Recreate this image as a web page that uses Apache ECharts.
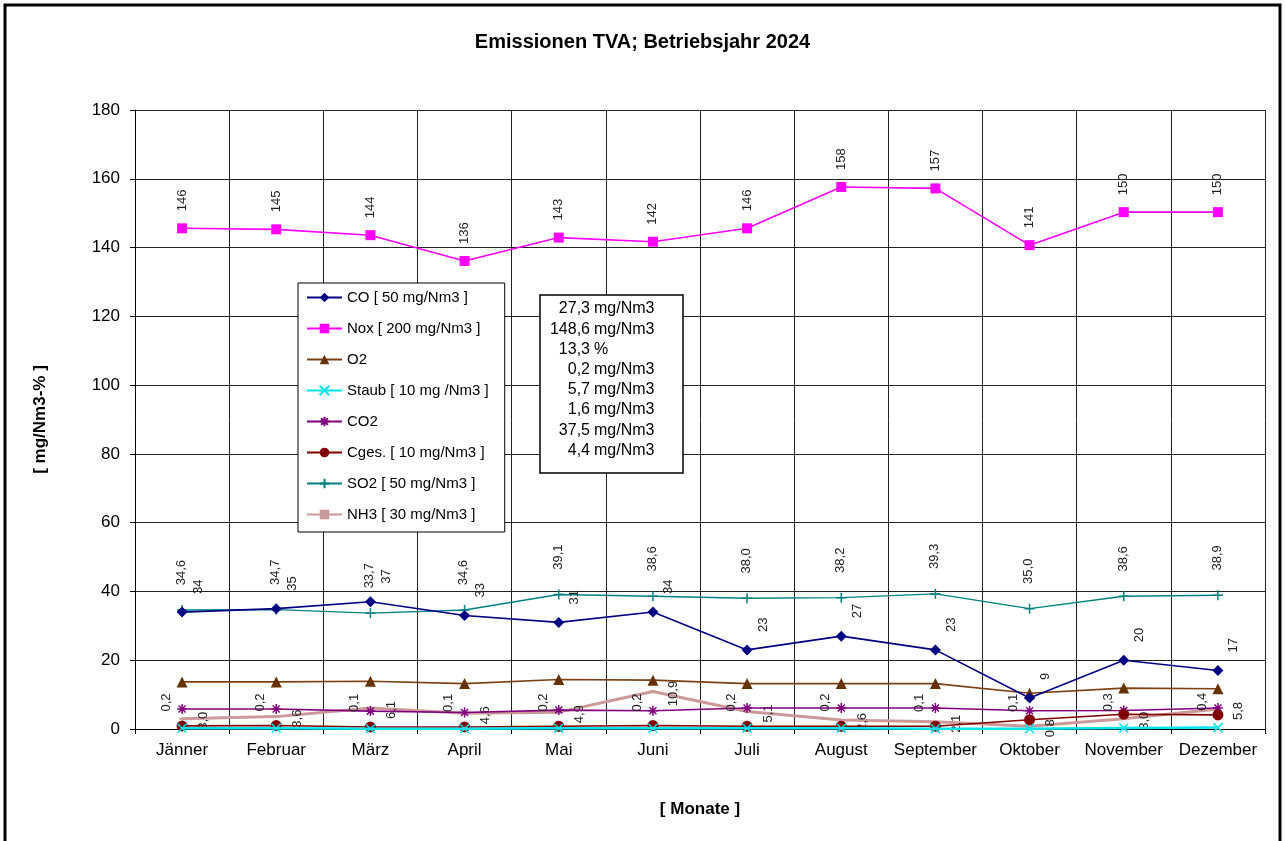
<!DOCTYPE html>
<html>
<head>
<meta charset="utf-8">
<script src="https://cdn.jsdelivr.net/npm/echarts@6/dist/echarts.min.js"></script>
<style>
  html, body { margin: 0; padding: 0; background: #fff; }
  #chart { width: 1285px; height: 841px; }
</style>
</head>
<body>
<div id="chart"></div>
<script>
// Monate
const months = ['Jänner', 'Februar', 'März', 'April', 'Mai', 'Juni', 'Juli', 'August', 'September', 'Oktober', 'November', 'Dezember'];

// Messwerte je Monat
const coValues    = [34, 35, 37, 33, 31, 34, 23, 27, 23, 9, 20, 17];
const noxValues   = [145.6, 145.3, 143.6, 136.1, 142.9, 141.7, 145.6, 157.6, 157.2, 140.7, 150.3, 150.3];
const o2Values    = [13.7, 13.7, 13.9, 13.2, 14.4, 14.2, 13.2, 13.2, 13.2, 10.4, 11.9, 11.7];
const staubValues = [0.2, 0.2, 0.1, 0.1, 0.2, 0.2, 0.2, 0.2, 0.1, 0.1, 0.3, 0.4];
const co2Values   = [5.8, 5.8, 5.2, 4.8, 5.5, 5.3, 6.1, 6.1, 6.1, 5.3, 5.4, 6.1];
const cgesValues  = [0.9, 1.0, 0.6, 0.6, 0.8, 1.0, 0.8, 0.8, 0.8, 2.7, 4.3, 4.1];
const so2Values   = [34.6, 34.7, 33.7, 34.6, 39.1, 38.6, 38.0, 38.2, 39.3, 35.0, 38.6, 38.9];
const nh3Values   = [3.0, 3.6, 6.1, 4.6, 4.9, 10.9, 5.1, 2.6, 2.1, 0.8, 3.0, 5.8];

// Jahresmittel (Textfeld)
const meanNumbers = ['27,3', '148,6', '13,3', '0,2', '5,7', '1,6', '37,5', '4,4'];
const meanUnits   = ['mg/Nm3', 'mg/Nm3', '%', 'mg/Nm3', 'mg/Nm3', 'mg/Nm3', 'mg/Nm3', 'mg/Nm3'];

const yTicks = { min: 0, max: 180, interval: 20 };

const FONT = '"Liberation Sans", Arial, sans-serif';
const comma = (v, d) => v.toFixed(d).replace('.', ',');

const SYM_X = 'path://M0,0L10,10M10,0L0,10';
const SYM_PLUS = 'path://M5,0L5,10M0,5L10,5';
const SYM_STAR = 'path://M5,0L5,10M0,5L10,5M1.5,1.5L8.5,8.5M8.5,1.5L1.5,8.5';

// label anchor relative to the symbol centre
const at = (dx, dy, size) => [size / 2 + dx, size / 2 + dy];

const vLabel = (pos, fmt, align) => ({
  show: true,
  position: pos,
  rotate: 90,
  align: align || 'left',
  verticalAlign: 'middle',
  fontFamily: FONT,
  fontSize: 13,
  color: '#222',
  formatter: p => fmt(p.value)
});

const chart = echarts.init(document.getElementById('chart'));

const graphics = [
  {
    type: 'rect', z: -10, silent: true,
    shape: { x: 5, y: 5, width: 1275, height: 860 },
    style: { fill: 'none', stroke: '#000', lineWidth: 3 }
  },
  {
    type: 'rect', z: 100,
    shape: { x: 540, y: 295, width: 143, height: 178 },
    style: { fill: '#fff', stroke: '#000', lineWidth: 1.5 }
  }
];
meanNumbers.forEach((n, i) => {
  const y = 309 + i * 20.2;
  graphics.push({
    type: 'text', z: 101, x: 590, y: y,
    style: { text: n, align: 'right', verticalAlign: 'middle', font: '16px ' + FONT, fill: '#000' }
  });
  graphics.push({
    type: 'text', z: 101, x: 594, y: y,
    style: { text: meanUnits[i], align: 'left', verticalAlign: 'middle', font: '16px ' + FONT, fill: '#000' }
  });
});

const option = {
  backgroundColor: '#fff',
  animation: false,
  title: {
    text: 'Emissionen TVA; Betriebsjahr 2024',
    left: 'center',
    top: 27,
    textStyle: { fontFamily: FONT, fontSize: 20, fontWeight: 'bold', color: '#000' }
  },
  legend: {
    orient: 'vertical',
    left: 298,
    top: 283,
    itemWidth: 35,
    itemHeight: 12,
    itemGap: 16,
    padding: [7, 16, 10, 8],
    backgroundColor: '#fff',
    borderColor: '#000',
    borderWidth: 1,
    borderRadius: 0,
    textStyle: { fontFamily: FONT, fontSize: 15, color: '#000' }
  },
  grid: { left: 135, right: 20, top: 110, bottom: 112, containLabel: false },
  xAxis: {
    type: 'category',
    data: months,
    boundaryGap: true,
    name: '[ Monate ]',
    nameLocation: 'middle',
    nameGap: 72,
    nameTextStyle: { fontFamily: FONT, fontSize: 17, fontWeight: 'bold', color: '#000' },
    axisLine: { lineStyle: { color: '#000', width: 1 } },
    axisTick: { show: true, length: 5, lineStyle: { color: '#000' } },
    axisLabel: { fontFamily: FONT, fontSize: 17, color: '#000', margin: 13, interval: 0 },
    splitLine: { show: true, lineStyle: { color: '#222', width: 1 } }
  },
  yAxis: {
    type: 'value',
    min: yTicks.min,
    max: yTicks.max,
    interval: yTicks.interval,
    name: '[ mg/Nm3-% ]',
    nameLocation: 'middle',
    nameRotate: 90,
    nameGap: 86,
    nameTextStyle: { fontFamily: FONT, fontSize: 17, fontWeight: 'bold', color: '#000' },
    axisLine: { show: true, lineStyle: { color: '#000', width: 1 } },
    axisTick: { show: true, length: 5, lineStyle: { color: '#000' } },
    axisLabel: { fontFamily: FONT, fontSize: 17, color: '#000', margin: 15 },
    splitLine: { show: true, lineStyle: { color: '#222', width: 1 } }
  },
  graphic: graphics,
  series: [
    {
      name: 'CO [ 50 mg/Nm3 ]', type: 'line', data: coValues, z: 5,
      symbol: 'diamond', symbolSize: 11,
      itemStyle: { color: '#000080' },
      lineStyle: { color: '#000080', width: 1.6 },
      label: vLabel(at(16, -18, 11), v => String(Math.round(v)))
    },
    {
      name: 'Nox [ 200 mg/Nm3 ]', type: 'line', data: noxValues, z: 5,
      symbol: 'rect', symbolSize: 10,
      itemStyle: { color: '#ff00ff' },
      lineStyle: { color: '#ff00ff', width: 1.6 },
      label: vLabel(at(0, -17, 10), v => String(Math.round(v)))
    },
    {
      name: 'O2', type: 'line', data: o2Values, z: 4,
      symbol: 'triangle', symbolSize: 11,
      itemStyle: { color: '#663300' },
      lineStyle: { color: '#7a4214', width: 1.6 }
    },
    {
      name: 'Staub [ 10 mg /Nm3 ]', type: 'line', data: staubValues, z: 6,
      symbol: SYM_X, symbolSize: 9,
      itemStyle: { color: '#00e5ee', borderColor: '#00e5ee', borderWidth: 1.5 },
      lineStyle: { color: '#00e5ee', width: 2.5 },
      label: vLabel(at(-15, -16, 9), v => comma(v, 1))
    },
    {
      name: 'CO2', type: 'line', data: co2Values, z: 4,
      symbol: SYM_STAR, symbolSize: 10,
      itemStyle: { color: '#800080', borderColor: '#800080', borderWidth: 1.5 },
      lineStyle: { color: '#800080', width: 1.6 }
    },
    {
      name: 'Cges. [ 10 mg/Nm3 ]', type: 'line', data: cgesValues, z: 4,
      symbol: 'circle', symbolSize: 11,
      itemStyle: { color: '#800000' },
      lineStyle: { color: '#800000', width: 1.6 }
    },
    {
      name: 'SO2 [ 50 mg/Nm3 ]', type: 'line', data: so2Values, z: 4,
      symbol: SYM_PLUS, symbolSize: 10,
      itemStyle: { color: '#008080', borderColor: '#008080', borderWidth: 1.5 },
      lineStyle: { color: '#008080', width: 1.4 },
      label: vLabel(at(0, -24, 10), v => comma(v, 1))
    },
    {
      name: 'NH3 [ 30 mg/Nm3 ]', type: 'line', data: nh3Values, z: 3,
      symbol: 'rect', symbolSize: [6, 2],
      itemStyle: { color: '#cc9999' },
      lineStyle: { color: '#cc9999', width: 3 },
      label: vLabel(at(21, 0, 6), v => comma(v, 1), 'center')
    }
  ]
};

chart.setOption(option);
</script>
</body>
</html>
